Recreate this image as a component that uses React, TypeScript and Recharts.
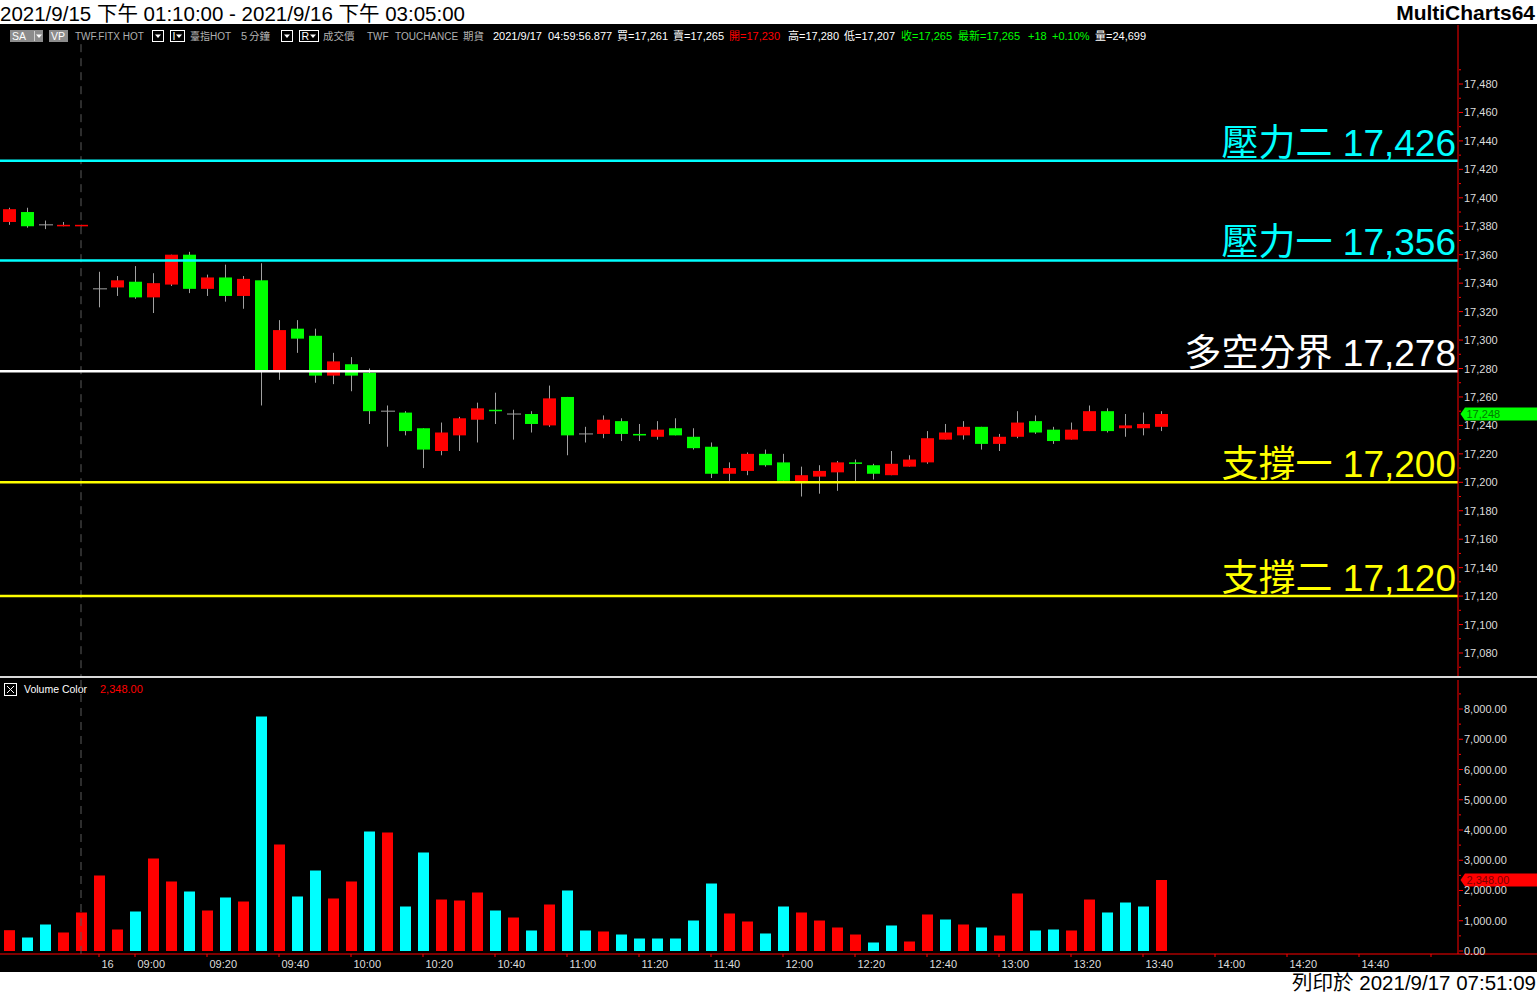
import React from 'react';
import { ComposedChart, Bar, XAxis, YAxis, ReferenceLine, Cell } from 'recharts';

const W = 1537;
const H = 995;
const AXIS_W = 79;
const FONT = "'Liberation Sans', Arial, 'Noto Sans CJK TC', sans-serif";

// 5-minute bars: tail of the 9/15 session, then the 9/16 day session (empty slots after 13:45)
const barTimes = [
  '13:25', '13:30', '13:35', '13:40', '13:45',
  '08:50', '08:55', '09:00', '09:05', '09:10', '09:15', '09:20', '09:25', '09:30', '09:35',
  '09:40', '09:45', '09:50', '09:55', '10:00', '10:05', '10:10', '10:15', '10:20', '10:25',
  '10:30', '10:35', '10:40', '10:45', '10:50', '10:55', '11:00', '11:05', '11:10', '11:15',
  '11:20', '11:25', '11:30', '11:35', '11:40', '11:45', '11:50', '11:55', '12:00', '12:05',
  '12:10', '12:15', '12:20', '12:25', '12:30', '12:35', '12:40', '12:45', '12:50', '12:55',
  '13:00', '13:05', '13:10', '13:15', '13:20', '13:25', '13:30', '13:35', '13:40', '13:45',
  '13:50', '13:55', '14:00', '14:05', '14:10', '14:15', '14:20', '14:25', '14:30', '14:35',
  '14:40', '14:45', '14:50', '14:55', '15:00', '15:05',
];

const opens = [
  17383, 17390, 17381, 17380, 17380, 17336, 17337, 17341, 17330, 17339,
  17360, 17336, 17344, 17331, 17342, 17278, 17308, 17303, 17275, 17283,
  17277, 17250, 17249, 17238, 17222, 17233, 17244, 17251, 17248, 17248,
  17240, 17260, 17234, 17234, 17243, 17234, 17232, 17238, 17232, 17225,
  17206, 17208, 17220, 17214, 17200, 17204, 17207, 17214, 17212, 17205,
  17211, 17214, 17230, 17233, 17239, 17227, 17232, 17243, 17237, 17230,
  17236, 17250, 17238, 17238, 17239,
];
const highs = [
  17393, 17393, 17384, 17383, 17381, 17348, 17345, 17352, 17347, 17360,
  17362, 17346, 17353, 17345, 17354, 17314, 17314, 17308, 17291, 17288,
  17280, 17254, 17250, 17238, 17242, 17246, 17256, 17263, 17251, 17250,
  17268, 17260, 17239, 17247, 17245, 17241, 17243, 17245, 17238, 17228,
  17214, 17221, 17223, 17220, 17211, 17212, 17215, 17216, 17213, 17222,
  17219, 17236, 17241, 17243, 17239, 17234, 17250, 17247, 17239, 17242,
  17254, 17252, 17248, 17249, 17250,
];
const lows = [
  17381, 17379, 17378, 17380, 17380, 17323, 17331, 17329, 17319, 17338,
  17333, 17331, 17327, 17322, 17254, 17272, 17291, 17270, 17269, 17264,
  17241, 17225, 17233, 17210, 17219, 17222, 17228, 17241, 17230, 17235,
  17239, 17219, 17228, 17231, 17229, 17229, 17230, 17233, 17223, 17203,
  17201, 17205, 17211, 17200, 17190, 17192, 17194, 17201, 17202, 17205,
  17211, 17213, 17230, 17230, 17223, 17222, 17231, 17234, 17227, 17230,
  17236, 17235, 17232, 17233, 17236,
];
const closes = [
  17392, 17380, 17381, 17381, 17381, 17336, 17342, 17330, 17340, 17360,
  17336, 17344, 17331, 17343, 17278, 17307, 17301, 17275, 17285, 17275,
  17250, 17250, 17236, 17223, 17235, 17245, 17252, 17250, 17248, 17241,
  17259, 17233, 17234, 17244, 17234, 17233, 17237, 17233, 17224, 17206,
  17210, 17220, 17212, 17201, 17205, 17208, 17214, 17213, 17206, 17213,
  17216, 17231, 17235, 17239, 17227, 17232, 17242, 17235, 17229, 17237,
  17250, 17236, 17240, 17241, 17248,
];
const volumes = [
  688, 446, 876, 612, 1273, 2496, 711, 1306, 3058, 2298,
  1967, 1339, 1769, 1636, 7752, 3521, 1802, 2661, 1736, 2298,
  3950, 3917, 1471, 3256, 1702, 1669, 1934, 1339, 1107, 678,
  1537, 2000, 678, 645, 545, 413, 413, 413, 1008, 2231,
  1240, 975, 579, 1471, 1273, 1008, 777, 545, 281, 843,
  314, 1207, 1041, 876, 777, 512, 1901, 678, 711, 678,
  1702, 1273, 1603, 1471, 2348,
];
// 1 = red volume bar, 0 = cyan volume bar
const volRed = [
  1, 0, 0, 1, 1, 1, 1, 0, 1, 1,
  0, 1, 0, 1, 0, 1, 0, 0, 1, 1,
  0, 1, 0, 0, 1, 1, 1, 0, 1, 0,
  1, 0, 0, 1, 0, 0, 0, 0, 0, 0,
  1, 1, 0, 0, 1, 1, 1, 1, 0, 0,
  1, 1, 0, 1, 0, 1, 1, 0, 0, 1,
  1, 0, 0, 0, 1,
];

const levelNames = ['壓力二', '壓力一', '多空分界', '支撐一', '支撐二'];
const levelValues = [17426, 17356, 17278, 17200, 17120];
const levelColors = ['#00FFFF', '#00FFFF', '#FFFFFF', '#FFFF00', '#FFFF00'];

const lastPrice = 17248;
const lastVolume = 2348;
const sessionBreakBar = 4;

const timeTickBars = [5, 7, 11, 15, 19, 23, 27, 31, 35, 39, 43, 47, 51, 55, 59, 63, 67, 71, 75, 79];
const timeTickLabels = [
  '16', '09:00', '09:20', '09:40', '10:00', '10:20', '10:40', '11:00', '11:20', '11:40',
  '12:00', '12:20', '12:40', '13:00', '13:20', '13:40', '14:00', '14:20', '14:40', '',
];

const priceTicks: number[] = [];
for (let v = 17070; v <= 17490; v += 10) priceTicks.push(v);
const volumeTicks: number[] = [];
for (let v = 0; v <= 8500; v += 500) volumeTicks.push(v);

const PRICE_DOMAIN: [number, number] = [17063.83, 17521.48];
const VOLUME_DOMAIN: [number, number] = [-99.2, 8958.7];

const rows = barTimes.map((t, i) => ({
  idx: i,
  t,
  open: opens[i],
  high: highs[i],
  low: lows[i],
  close: closes[i],
  vol: volumes[i],
}));

const fmt0 = (v: number) => v.toLocaleString('en-US');
const fmt2 = (v: number) =>
  v.toLocaleString('en-US', { minimumFractionDigits: 2, maximumFractionDigits: 2 });

function Candle(props: any) {
  const { x, y, width, height, payload } = props;
  if (!payload || payload.open == null) return null;
  const { open, close, high, low } = payload;
  const top = Math.min(y, y + height);
  const span = Math.abs(height);
  const k = high > low ? span / (high - low) : 0;
  const py = (v: number) => top + (high - v) * k;
  const cx = x + width / 2;
  const wick = '#A0A0A0';
  if (open === close) {
    return (
      <g>
        <line x1={cx} x2={cx} y1={py(high)} y2={py(low)} stroke={wick} />
        <line x1={x} x2={x + width + 1} y1={py(open)} y2={py(open)} stroke={wick} />
      </g>
    );
  }
  const up = close > open;
  const bTop = py(Math.max(open, close));
  const bBot = py(Math.min(open, close));
  return (
    <g>
      <line x1={cx} x2={cx} y1={py(high)} y2={py(low)} stroke={wick} />
      <rect x={x} y={bTop} width={width} height={Math.max(1.5, bBot - bTop)} fill={up ? '#FF0000' : '#00FF00'} />
    </g>
  );
}

function PriceTick(props: any) {
  const { x, y, payload } = props;
  const v = payload.value as number;
  const major = v % 20 === 0;
  return (
    <g>
      <line x1={x + 1} x2={x + (major ? 5 : 3)} y1={y} y2={y} stroke="#FF0000" />
      {major && (
        <text x={x + 6} y={y + 4} fontSize={11} fill="#DCDCDC" fontFamily={FONT}>
          {fmt0(v)}
        </text>
      )}
    </g>
  );
}

function VolumeTick(props: any) {
  const { x, y, payload } = props;
  const v = payload.value as number;
  const major = v % 1000 === 0 && v <= 8000;
  return (
    <g>
      <line x1={x + 1} x2={x + (major ? 5 : 3)} y1={y} y2={y} stroke="#FF0000" />
      {major && (
        <text x={x + 6} y={y + 4} fontSize={11} fill="#DCDCDC" fontFamily={FONT}>
          {fmt2(v)}
        </text>
      )}
    </g>
  );
}

function TimeTick(props: any) {
  const { x, y, payload } = props;
  const k = timeTickBars.indexOf(payload.value);
  return (
    <g>
      <line x1={x} x2={x} y1={y} y2={y + 3} stroke="#FF0000" />
      <text x={x + 2.5} y={y + 14} fontSize={11} fill="#DCDCDC" fontFamily={FONT}>
        {k >= 0 ? timeTickLabels[k] : ''}
      </text>
    </g>
  );
}

function LevelLabel(props: any) {
  const { viewBox, name, value, color } = props;
  if (!viewBox) return null;
  const { x, y, width } = viewBox;
  return (
    <text
      x={x + width - 2}
      y={y - 5}
      textAnchor="end"
      fill={color}
      fontSize={37}
      fontFamily={FONT}
    >
      {`${name} ${fmt0(value)}`}
    </text>
  );
}

function AxisTag(props: any) {
  const { viewBox, text, bg, fg } = props;
  if (!viewBox) return null;
  const { x, y, width } = viewBox;
  const tip = x + width + 2.5;
  const right = x + width + AXIS_W;
  const h = 6.5;
  return (
    <g>
      <path
        d={`M${tip} ${y} L${tip + 4.5} ${y - h} L${right} ${y - h} L${right} ${y + h} L${tip + 4.5} ${y + h} Z`}
        fill={bg}
      />
      <text x={tip + 6} y={y + 4} fontSize={11} fill={fg} fontFamily={FONT}>
        {text}
      </text>
    </g>
  );
}

const GRAY = '#B0B0B0';
const WHITE = '#FFFFFF';
const RED = '#FF0000';
const GREEN = '#00FF00';

const infoTexts: [number, string, string, number][] = [
  [75, 'TWF.FITX HOT', GRAY, 10],
  [190, '臺指HOT', GRAY, 10],
  [241, '5', GRAY, 11],
  [249, '分鐘', GRAY, 10.5],
  [323, '成交價', GRAY, 10.5],
  [367, 'TWF', GRAY, 10],
  [395, 'TOUCHANCE', GRAY, 10],
  [463, '期貨', GRAY, 10.5],
  [493, '2021/9/17', WHITE, 11],
  [548, '04:59:56.877', WHITE, 11],
  [617, '買=17,261', WHITE, 11],
  [673, '賣=17,265', WHITE, 11],
  [729, '開=17,230', RED, 11],
  [788, '高=17,280', WHITE, 11],
  [844, '低=17,207', WHITE, 11],
  [901, '收=17,265', GREEN, 11],
  [958, '最新=17,265', GREEN, 11],
  [1028, '+18', GREEN, 11],
  [1052, '+0.10%', GREEN, 11],
  [1095, '量=24,699', WHITE, 11],
];

function DropBox({ x, w, label }: { x: number; w: number; label?: string }) {
  return (
    <g>
      <rect x={x + 0.5} y={30.5} width={w} height={11} fill="#000" stroke="#FFFFFF" />
      {label && (
        <text x={x + 2.5} y={40} fontSize={10.5} fill="#FFFFFF" fontFamily={FONT}>
          {label}
        </text>
      )}
      <path d={`M${x + w - 8} 34.5 L${x + w - 2} 34.5 L${x + w - 5} 38 Z`} fill="#FFFFFF" />
    </g>
  );
}

function Frame() {
  return (
    <svg width={W} height={H} style={{ position: 'absolute', left: 0, top: 0 }} fontFamily={FONT}>
      <rect x={0} y={0} width={W} height={H} fill="#FFFFFF" />
      <rect x={0} y={24} width={W} height={948} fill="#000000" />
      <text x={0} y={21} fontSize={20.5} fill="#000">
        2021/9/15 下午 01:10:00 - 2021/9/16 下午 03:05:00
      </text>
      <text x={1535} y={20} fontSize={21} fontWeight="bold" textAnchor="end" fill="#000">
        MultiCharts64
      </text>
      <text x={1536} y={990} fontSize={20.5} textAnchor="end" fill="#000">
        列印於 2021/9/17 07:51:09
      </text>

      {/* toolbar row */}
      <rect x={10} y={30} width={33} height={12} fill="#8C8C8C" />
      <text x={12} y={40} fontSize={10.5} fill="#FFFFFF">SA</text>
      <line x1={34.5} x2={34.5} y1={31} y2={41} stroke="#D0D0D0" />
      <path d="M36 34.5 L42 34.5 L39 38 Z" fill="#FFFFFF" />
      <rect x={49} y={30} width={19} height={12} fill="#8C8C8C" />
      <text x={51} y={40} fontSize={10.5} fill="#FFFFFF">VP</text>
      <DropBox x={152} w={11} />
      <DropBox x={170} w={14} label="I" />
      <DropBox x={281} w={11} />
      <DropBox x={299} w={19} label="R" />
      {infoTexts.map(([x, s, c, fs], i) => (
        <text key={i} x={x} y={40} fontSize={fs} fill={c}>
          {s}
        </text>
      ))}

      {/* pane separator */}
      <rect x={0} y={676} width={W} height={2} fill="#D8D8D8" />

      {/* volume pane header */}
      <rect x={4.5} y={683.5} width={12} height={12} fill="none" stroke="#FFFFFF" />
      <path d="M7 686 L14 693 M14 686 L7 693" stroke="#FFFFFF" />
      <text x={24} y={693} fontSize={10.5} fill="#FFFFFF">Volume Color</text>
      <text x={100} y={693} fontSize={11} fill="#FF0000">{fmt2(lastVolume)}</text>

      {/* time axis continues under the value scale */}
      <line x1={W - AXIS_W} x2={W} y1={954} y2={954} stroke="#FF0000" />
    </svg>
  );
}

export default function App() {
  return (
    <div style={{ position: 'absolute', left: 0, top: 0, width: W, height: H, overflow: 'hidden' }}>
      <Frame />

      <div style={{ position: 'absolute', left: 0, top: 25 }}>
        <ComposedChart width={W} height={651} data={rows} margin={{ top: 0, right: 0, bottom: 0, left: 0 }}>
          <XAxis dataKey="idx" type="category" hide />
          <YAxis
            orientation="right"
            width={AXIS_W}
            domain={PRICE_DOMAIN}
            allowDataOverflow
            ticks={priceTicks}
            interval={0}
            tick={<PriceTick />}
            tickLine={false}
            tickSize={0}
            tickMargin={0}
            axisLine={{ stroke: '#FF0000' }}
          />
          <ReferenceLine
            segment={[
              { x: sessionBreakBar, y: 17508 },
              { x: sessionBreakBar, y: PRICE_DOMAIN[0] },
            ]}
            stroke="#5A5A5A"
            strokeDasharray="8 6"
          />
          <Bar
            dataKey={(d: any) => (d.low == null ? null : [d.low, d.high])}
            barSize={13}
            shape={<Candle />}
            isAnimationActive={false}
          />
          {levelValues.map((v, i) => (
            <ReferenceLine
              key={v}
              y={v}
              stroke={levelColors[i]}
              strokeWidth={2.5}
              label={<LevelLabel name={levelNames[i]} value={v} color={levelColors[i]} />}
            />
          ))}
          <ReferenceLine
            y={lastPrice}
            stroke="none"
            label={<AxisTag text={fmt0(lastPrice)} bg="#00FF00" fg="#007A00" />}
          />
        </ComposedChart>
      </div>

      <div style={{ position: 'absolute', left: 0, top: 680 }}>
        <ComposedChart width={W} height={292} data={rows} margin={{ top: 0, right: 0, bottom: 0, left: 0 }}>
          <XAxis
            dataKey="idx"
            type="category"
            ticks={timeTickBars}
            interval={0}
            height={18}
            tick={<TimeTick />}
            tickLine={false}
            tickSize={0}
            tickMargin={0}
            axisLine={{ stroke: '#FF0000' }}
          />
          <YAxis
            orientation="right"
            width={AXIS_W}
            domain={VOLUME_DOMAIN}
            allowDataOverflow
            ticks={volumeTicks}
            interval={0}
            tick={<VolumeTick />}
            tickLine={false}
            tickSize={0}
            tickMargin={0}
            axisLine={{ stroke: '#FF0000' }}
          />
          <ReferenceLine x={sessionBreakBar} stroke="#5A5A5A" strokeDasharray="8 6" />
          <Bar dataKey="vol" barSize={11} isAnimationActive={false}>
            {rows.map((r, i) => (
              <Cell key={i} fill={volRed[i] ? '#FF0000' : '#00FFFF'} />
            ))}
          </Bar>
          <ReferenceLine
            y={lastVolume}
            stroke="none"
            label={<AxisTag text={fmt2(lastVolume)} bg="#FF0000" fg="#7A0000" />}
          />
        </ComposedChart>
      </div>
    </div>
  );
}
